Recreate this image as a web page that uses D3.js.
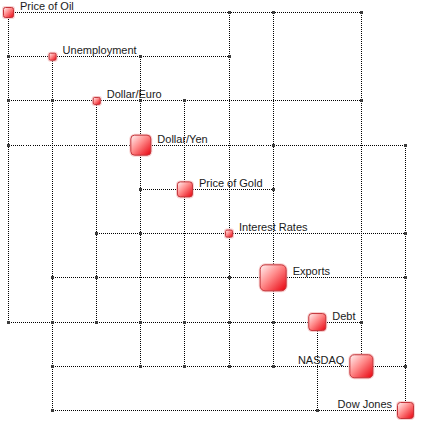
<!DOCTYPE html>
<html>
<head>
<meta charset="utf-8">
<script src="https://cdn.jsdelivr.net/npm/d3@7"></script>
<style>
html,body{margin:0;padding:0;background:#fff;}
svg{display:block;}
</style>
</head>
<body>
<svg id="chart" width="422" height="426"></svg>
<script>
// ---- data ----
const categories = ["Price of Oil","Unemployment","Dollar/Euro","Dollar/Yen","Price of Gold",
                    "Interest Rates","Exports","Debt","NASDAQ","Dow Jones"];
const nodeWeight = [11, 8, 8, 21, 16, 8, 27, 18, 24, 17];
const labelSide  = ["right","right","right","right","right","right","right","right","left","left"];
// links routed through the upper-right corner (along source row, then target column)
const linksAbove = [
  ["Price of Oil","Interest Rates"],["Price of Oil","Exports"],["Price of Oil","NASDAQ"],
  ["Unemployment","Dollar/Yen"],["Unemployment","Interest Rates"],
  ["Dollar/Euro","Dollar/Yen"],["Dollar/Euro","Price of Gold"],["Dollar/Euro","NASDAQ"],
  ["Dollar/Yen","Exports"],["Dollar/Yen","Dow Jones"],
  ["Price of Gold","Exports"],["Interest Rates","Dow Jones"],["Exports","Dow Jones"],
  ["Debt","NASDAQ"],["NASDAQ","Dow Jones"]
];
// links routed through the lower-left corner (along source column, then target row)
const linksBelow = [
  ["Price of Oil","Unemployment"],["Price of Oil","Dollar/Euro"],["Unemployment","Dollar/Euro"],
  ["Price of Oil","Dollar/Yen"],["Dollar/Yen","Price of Gold"],
  ["Dollar/Euro","Interest Rates"],["Dollar/Yen","Interest Rates"],
  ["Unemployment","Exports"],["Dollar/Euro","Exports"],["Interest Rates","Exports"],
  ["Price of Oil","Debt"],["Unemployment","Debt"],["Dollar/Euro","Debt"],["Dollar/Yen","Debt"],
  ["Price of Gold","Debt"],["Interest Rates","Debt"],["Exports","Debt"],
  ["Unemployment","NASDAQ"],["Dollar/Yen","NASDAQ"],["Price of Gold","NASDAQ"],
  ["Interest Rates","NASDAQ"],["Exports","NASDAQ"],
  ["Unemployment","Dow Jones"],["Debt","Dow Jones"]
];

// ---- scales ----
const xScale = d3.scalePoint().domain(categories).range([8, 405]);
const yScale = d3.scalePoint().domain(categories).range([12, 410]);
const sizeScale = d3.scaleLinear().domain([0, 30]).range([0, 30]);
const X = c => Math.round(xScale(c)) + 0.5;
const Y = c => Math.round(yScale(c)) + 0.5;

const svg = d3.select("#chart");
const defs = svg.append("defs");
const grad = defs.append("linearGradient").attr("id","nodeGrad")
  .attr("x1","0").attr("y1","0").attr("x2","1").attr("y2","1");
grad.append("stop").attr("offset","0").attr("stop-color","#fff4f4");
grad.append("stop").attr("offset","0.45").attr("stop-color","#ff8a8a");
grad.append("stop").attr("offset","1").attr("stop-color","#e8000c");

// corners
const corners = [];
linksAbove.forEach(([s,t]) => corners.push({row:s, col:t}));
linksBelow.forEach(([s,t]) => corners.push({row:t, col:s}));

// row & column extents
const rowSegs = categories.map(c => {
  const xs = corners.filter(k => k.row === c).map(k => X(k.col)).concat([X(c)]);
  return {c, x1: d3.min(xs), x2: d3.max(xs), y: Y(c)};
}).filter(d => d.x2 > d.x1);
const colSegs = categories.map(c => {
  const ys = corners.filter(k => k.col === c).map(k => Y(k.row)).concat([Y(c)]);
  return {c, y1: d3.min(ys), y2: d3.max(ys), x: X(c)};
}).filter(d => d.y2 > d.y1);

const lines = svg.append("g").attr("stroke","#000").attr("stroke-width",1)
  .attr("stroke-dasharray","1,1").attr("fill","none").attr("shape-rendering","crispEdges");
lines.selectAll("line.h").data(rowSegs).join("line").attr("class","h")
  .attr("x1", d => d.x1).attr("x2", d => d.x2).attr("y1", d => d.y).attr("y2", d => d.y);
lines.selectAll("line.v").data(colSegs).join("line").attr("class","v")
  .attr("x1", d => d.x).attr("x2", d => d.x).attr("y1", d => d.y1).attr("y2", d => d.y2);

svg.append("g").attr("shape-rendering","crispEdges").selectAll("rect").data(corners).join("rect")
  .attr("x", d => X(d.col) - 1.5).attr("y", d => Y(d.row) - 1.5)
  .attr("width", 3).attr("height", 3).attr("fill", "#3c3c3c");

// nodes
const nodes = categories.map((c,i) => ({c, s: sizeScale(nodeWeight[i]), side: labelSide[i],
  cx: xScale(c) + 0.5, cy: yScale(c) + 0.5}));
const ng = svg.append("g");
ng.selectAll("rect.halo").data(nodes).join("rect").attr("class","halo")
  .attr("x", d => d.cx - d.s/2 - 1).attr("y", d => d.cy - d.s/2 - 1)
  .attr("width", d => d.s + 2).attr("height", d => d.s + 2)
  .attr("rx", d => d.s*0.2 + 1)
  .attr("fill", "#f4b4b4").attr("opacity", 0.6);
ng.selectAll("rect.node").data(nodes).join("rect").attr("class","node")
  .attr("x", d => d.cx - d.s/2 + 0.5).attr("y", d => d.cy - d.s/2 + 0.5)
  .attr("width", d => d.s - 1).attr("height", d => d.s - 1)
  .attr("rx", d => d.s*0.18)
  .attr("fill", "url(#nodeGrad)").attr("stroke", "#c4343a").attr("stroke-width", 1);

svg.append("g").selectAll("text").data(nodes).join("text")
  .attr("x", d => d.side === "right" ? d.cx + d.s/2 + 6 : d.cx - d.s/2 - 5)
  .attr("y", d => d.cy - 2.5)
  .attr("text-anchor", d => d.side === "right" ? "start" : "end")
  .attr("font-family", "'Liberation Sans', Arial, sans-serif")
  .attr("font-size", "11px").attr("fill", "#1a1a1a")
  .text(d => d.c);
</script>
</body>
</html>
